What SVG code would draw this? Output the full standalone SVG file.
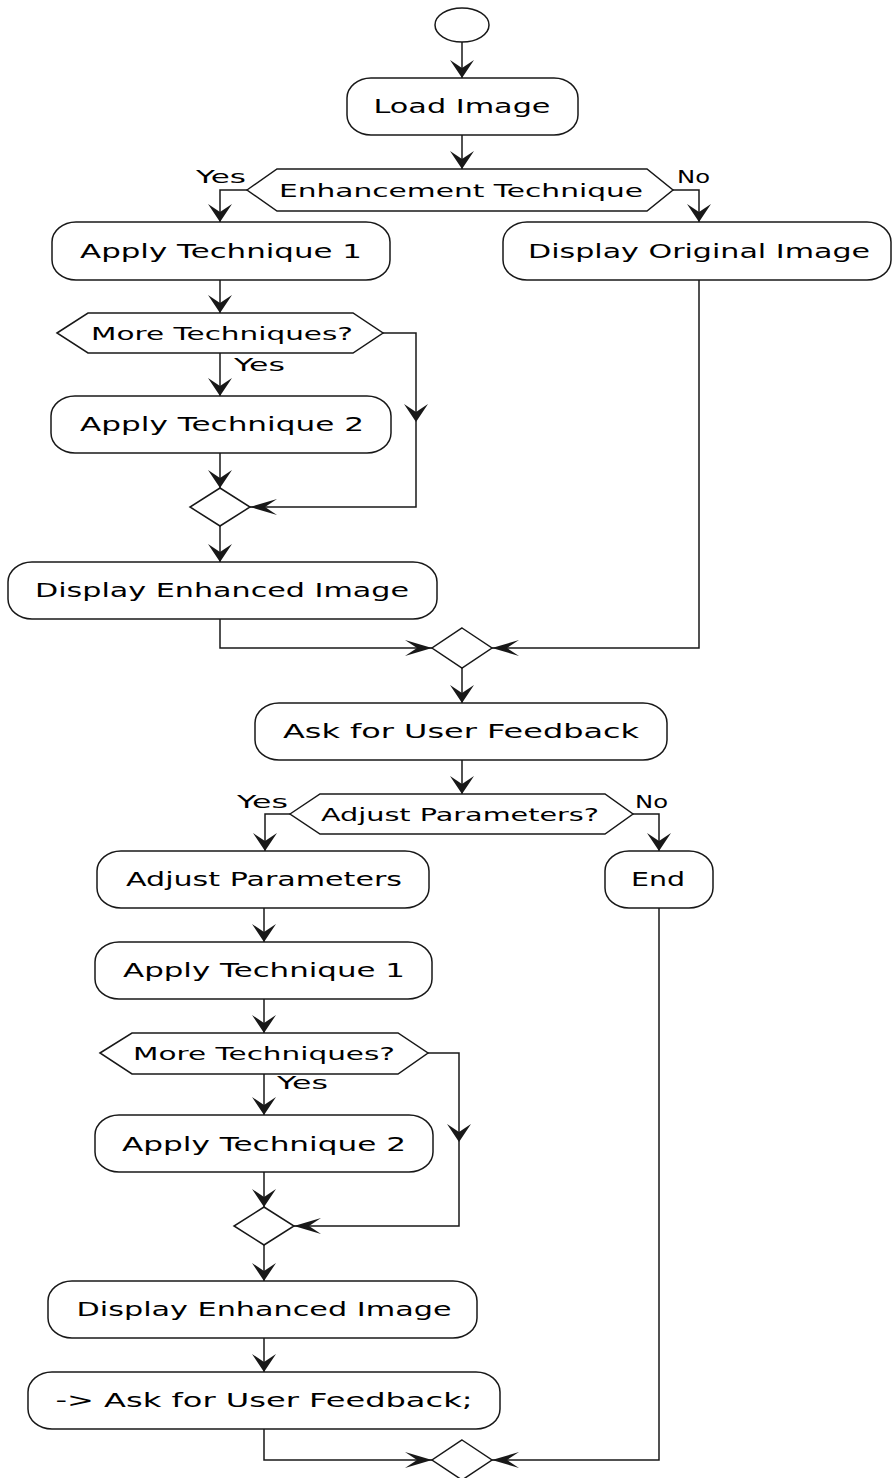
<svg xmlns="http://www.w3.org/2000/svg" width="893" height="1478" viewBox="0 0 893 1478">
<style>
.box{fill:#fff;stroke:#181818;stroke-width:1.5}
.conn{fill:none;stroke:#181818;stroke-width:1.5}
.t{font-family:"DejaVu Sans","Liberation Sans",sans-serif;font-size:20px;fill:#000;text-anchor:middle}
.h{font-family:"DejaVu Sans","Liberation Sans",sans-serif;font-size:17px;fill:#000;text-anchor:middle}
.l{font-family:"DejaVu Sans","Liberation Sans",sans-serif;font-size:17px;fill:#000}
</style>
<defs>
<marker id="av" markerUnits="userSpaceOnUse" orient="auto" refX="0" refY="0" markerWidth="30" markerHeight="30" overflow="visible"><path d="M0,0 L-18,-12 L-10,0 L-18,12 Z" fill="#181818"/></marker>
<marker id="ah" markerUnits="userSpaceOnUse" orient="auto" refX="0" refY="0" markerWidth="30" markerHeight="30" overflow="visible"><path d="M0,0 L-27,-8 L-15,0 L-27,8 Z" fill="#181818"/></marker>
</defs>
<rect width="893" height="1478" fill="#fff"/>
<g id="connectors">
<path class="conn" d="M462,42 V78" marker-end="url(#av)"/>
<path class="conn" d="M462,135 V169" marker-end="url(#av)"/>
<path class="conn" d="M247,190 H220 V222" marker-end="url(#av)"/>
<path class="conn" d="M673,190 H699 V222" marker-end="url(#av)"/>
<path class="conn" d="M220,280 V313" marker-end="url(#av)"/>
<path class="conn" d="M220,353 V396" marker-end="url(#av)"/>
<path class="conn" d="M383,333 H416 V422" marker-end="url(#av)"/>
<path class="conn" d="M416,422 V507 H250" marker-end="url(#ah)"/>
<path class="conn" d="M220,453 V488" marker-end="url(#av)"/>
<path class="conn" d="M220,526 V562" marker-end="url(#av)"/>
<path class="conn" d="M220,619 V648 H432" marker-end="url(#ah)"/>
<path class="conn" d="M699,280 V648 H492" marker-end="url(#ah)"/>
<path class="conn" d="M462,668 V703" marker-end="url(#av)"/>
<path class="conn" d="M462,760 V794" marker-end="url(#av)"/>
<path class="conn" d="M290,814 H265 V851" marker-end="url(#av)"/>
<path class="conn" d="M633,814 H659 V851" marker-end="url(#av)"/>
<path class="conn" d="M264,908 V942" marker-end="url(#av)"/>
<path class="conn" d="M264,999 V1033" marker-end="url(#av)"/>
<path class="conn" d="M264,1074 V1115" marker-end="url(#av)"/>
<path class="conn" d="M428,1053 H459 V1142" marker-end="url(#av)"/>
<path class="conn" d="M459,1142 V1226 H294" marker-end="url(#ah)"/>
<path class="conn" d="M264,1172 V1207" marker-end="url(#av)"/>
<path class="conn" d="M264,1245 V1281" marker-end="url(#av)"/>
<path class="conn" d="M264,1338 V1372" marker-end="url(#av)"/>
<path class="conn" d="M264,1429 V1460 H432" marker-end="url(#ah)"/>
<path class="conn" d="M659,908 V1460 H492" marker-end="url(#ah)"/>
</g>
<g id="start"><ellipse class="box" cx="462" cy="25" rx="27" ry="17"/></g>
<g id="load-image"><rect class="box" x="347" y="78" width="231" height="57" rx="24" ry="20"/><text class="t" x="462" y="113" textLength="177" lengthAdjust="spacingAndGlyphs">Load Image</text></g>
<g id="enhancement-technique"><polygon class="box" points="247,190 277,169 647,169 673,190 647,211 277,211"/><text class="h" x="461" y="197" textLength="364" lengthAdjust="spacingAndGlyphs">Enhancement Technique</text><text class="l" x="196" y="183" textLength="50" lengthAdjust="spacingAndGlyphs">Yes</text><text class="l" x="677" y="183" textLength="33" lengthAdjust="spacingAndGlyphs">No</text></g>
<g id="apply-technique-1a"><rect class="box" x="52" y="222" width="338" height="58" rx="24" ry="20"/><text class="t" x="221" y="258" textLength="282" lengthAdjust="spacingAndGlyphs">Apply Technique 1</text></g>
<g id="display-original-image"><rect class="box" x="503" y="222" width="388" height="58" rx="24" ry="20"/><text class="t" x="699" y="258" textLength="342" lengthAdjust="spacingAndGlyphs">Display Original Image</text></g>
<g id="more-techniques-a"><polygon class="box" points="57,333 88,313 353,313 383,333 353,353 88,353"/><text class="h" x="222" y="340" textLength="262" lengthAdjust="spacingAndGlyphs">More Techniques?</text><text class="l" x="234" y="371" textLength="51" lengthAdjust="spacingAndGlyphs">Yes</text></g>
<g id="apply-technique-2a"><rect class="box" x="51" y="396" width="340" height="57" rx="24" ry="20"/><text class="t" x="222" y="431" textLength="284" lengthAdjust="spacingAndGlyphs">Apply Technique 2</text></g>
<g id="merge-a"><polygon class="box" points="220,488 250,507 220,526 190,507"/></g>
<g id="display-enhanced-image-a"><rect class="box" x="8" y="562" width="429" height="57" rx="24" ry="20"/><text class="t" x="222" y="597" textLength="374" lengthAdjust="spacingAndGlyphs">Display Enhanced Image</text></g>
<g id="merge-b"><polygon class="box" points="462,628 492,648 462,668 432,648"/></g>
<g id="ask-feedback"><rect class="box" x="255" y="703" width="412" height="57" rx="24" ry="20"/><text class="t" x="461" y="738" textLength="356" lengthAdjust="spacingAndGlyphs">Ask for User Feedback</text></g>
<g id="adjust-parameters-q"><polygon class="box" points="290,814 320,794 605,794 633,814 605,834 320,834"/><text class="h" x="460" y="821" textLength="278" lengthAdjust="spacingAndGlyphs">Adjust Parameters?</text><text class="l" x="237" y="808" textLength="51" lengthAdjust="spacingAndGlyphs">Yes</text><text class="l" x="635" y="808" textLength="33" lengthAdjust="spacingAndGlyphs">No</text></g>
<g id="adjust-parameters"><rect class="box" x="97" y="851" width="332" height="57" rx="24" ry="20"/><text class="t" x="264" y="886" textLength="276" lengthAdjust="spacingAndGlyphs">Adjust Parameters</text></g>
<g id="end"><rect class="box" x="605" y="851" width="108" height="57" rx="24" ry="20"/><text class="t" x="658" y="886" textLength="54" lengthAdjust="spacingAndGlyphs">End</text></g>
<g id="apply-technique-1b"><rect class="box" x="95" y="942" width="337" height="57" rx="24" ry="20"/><text class="t" x="264" y="977" textLength="282" lengthAdjust="spacingAndGlyphs">Apply Technique 1</text></g>
<g id="more-techniques-b"><polygon class="box" points="100,1053 132,1033 398,1033 428,1053 398,1074 132,1074"/><text class="h" x="264" y="1060" textLength="262" lengthAdjust="spacingAndGlyphs">More Techniques?</text><text class="l" x="277" y="1089" textLength="51" lengthAdjust="spacingAndGlyphs">Yes</text></g>
<g id="apply-technique-2b"><rect class="box" x="95" y="1115" width="338" height="57" rx="24" ry="20"/><text class="t" x="264" y="1151" textLength="284" lengthAdjust="spacingAndGlyphs">Apply Technique 2</text></g>
<g id="merge-c"><polygon class="box" points="264,1207 294,1226 264,1245 234,1226"/></g>
<g id="display-enhanced-image-b"><rect class="box" x="48" y="1281" width="429" height="57" rx="24" ry="20"/><text class="t" x="264" y="1316" textLength="375" lengthAdjust="spacingAndGlyphs">Display Enhanced Image</text></g>
<g id="ask-feedback-b"><rect class="box" x="28" y="1372" width="472" height="57" rx="24" ry="20"/><text class="t" x="264" y="1407" textLength="417" lengthAdjust="spacingAndGlyphs">-&gt; Ask for User Feedback;</text></g>
<g id="merge-d"><polygon class="box" points="462,1440 492,1460 462,1480 432,1460"/></g>
</svg>
